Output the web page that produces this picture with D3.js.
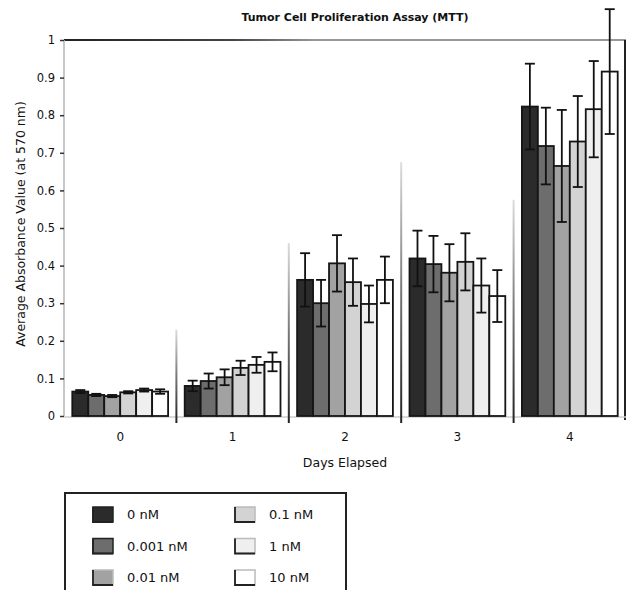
<!DOCTYPE html>
<html>
<head>
<meta charset="utf-8">
<script src="https://cdn.jsdelivr.net/npm/d3@7"></script>
<style>
  body { margin: 0; background: #fff; }
  text { font-family: "DejaVu Sans", sans-serif; fill: #111; }
</style>
</head>
<body>
<svg id="chart" width="626" height="590"></svg>
<script>
// days on the x axis
var days = ["0", "1", "2", "3", "4"];
// concentrations (legend order)
var doses = ["0 nM", "0.001 nM", "0.01 nM", "0.1 nM", "1 nM", "10 nM"];
var doseColors = ["#2b2b2b", "#6d6d6d", "#a2a2a2", "#d3d3d3", "#efefef", "#ffffff"];

// mean absorbance, one array per dose, day 0..4
var mean0nM    = [0.065, 0.080, 0.362, 0.419, 0.823];
var mean0001nM = [0.056, 0.093, 0.300, 0.404, 0.718];
var mean001nM  = [0.053, 0.103, 0.406, 0.381, 0.665];
var mean01nM   = [0.063, 0.128, 0.356, 0.410, 0.730];
var mean1nM    = [0.069, 0.136, 0.298, 0.347, 0.816];
var mean10nM   = [0.065, 0.144, 0.362, 0.319, 0.916];

// standard deviation (error bars)
var err0nM    = [0.004, 0.014, 0.071, 0.074, 0.114];
var err0001nM = [0.003, 0.020, 0.062, 0.075, 0.102];
var err001nM  = [0.003, 0.021, 0.075, 0.076, 0.149];
var err01nM   = [0.003, 0.019, 0.063, 0.076, 0.121];
var err1nM    = [0.004, 0.021, 0.049, 0.072, 0.128];
var err10nM   = [0.006, 0.025, 0.062, 0.069, 0.166];

// height reached by the thin divider lines between day groups
var dividerTops = [0.23, 0.46, 0.675, 0.575];

var yTicks = [0, 0.1, 0.2, 0.3, 0.4, 0.5, 0.6, 0.7, 0.8, 0.9, 1];

var means = [mean0nM, mean0001nM, mean001nM, mean01nM, mean1nM, mean10nM];
var errs = [err0nM, err0001nM, err001nM, err01nM, err1nM, err10nM];

var rows = [];
days.forEach(function(day, i) {
    doses.forEach(function(dose, j) {
        rows.push({day: day, dose: dose, color: doseColors[j], value: means[j][i], err: errs[j][i]});
    });
});

var svg = d3.select("#chart");

var plotLeft = 64, plotRight = 626, plotTop = 40, plotBottom = 416;

var xScale = d3.scaleBand().domain(days).range([plotLeft, plotRight]).padding(0);
var xInner = d3.scaleBand().domain(doses).range([0, xScale.bandwidth()]).paddingInner(0).paddingOuter(0.52);
var yScale = d3.scaleLinear().domain([0, 1]).range([plotBottom, plotTop]);

var defs = svg.append("defs");
var g1 = defs.append("linearGradient").attr("id", "topFade").attr("x1", "0").attr("x2", "1").attr("y1", "0").attr("y2", "0");
g1.append("stop").attr("offset", "0").attr("stop-color", "#222");
g1.append("stop").attr("offset", "0.3").attr("stop-color", "#444");
g1.append("stop").attr("offset", "0.45").attr("stop-color", "#999");
g1.append("stop").attr("offset", "1").attr("stop-color", "#999");
var g2 = defs.append("linearGradient").attr("id", "divFade").attr("x1", "0").attr("x2", "0").attr("y1", "0").attr("y2", "1");
g2.append("stop").attr("offset", "0").attr("stop-color", "#ddd");
g2.append("stop").attr("offset", "0.5").attr("stop-color", "#777");
g2.append("stop").attr("offset", "1").attr("stop-color", "#222");

// title
svg.append("text")
    .attr("x", 355).attr("y", 21)
    .attr("text-anchor", "middle")
    .style("font-size", "11px")
    .style("font-weight", "bold")
    .text("Tumor Cell Proliferation Assay (MTT)");

// frame: top line, right edge, faint left axis and baseline
svg.append("rect")
    .attr("x", plotLeft).attr("y", plotTop - 1).attr("width", plotRight - plotLeft).attr("height", 2)
    .attr("fill", "url(#topFade)");
svg.append("line")
    .attr("x1", plotRight - 1).attr("x2", plotRight - 1).attr("y1", plotTop).attr("y2", plotBottom + 4)
    .attr("stroke", "#222").attr("stroke-width", 2);
svg.append("line")
    .attr("x1", plotLeft).attr("x2", plotLeft).attr("y1", plotTop).attr("y2", plotBottom)
    .attr("stroke", "#b5b5b5").attr("stroke-width", 1.5);
svg.append("line")
    .attr("x1", plotLeft).attr("x2", plotRight).attr("y1", plotBottom + 1).attr("y2", plotBottom + 1)
    .attr("stroke", "#ccc").attr("stroke-width", 1.5);

// y axis ticks + labels
var yAxis = d3.axisLeft(yScale).tickValues(yTicks).tickSize(4).tickPadding(5)
    .tickFormat(function(d) { return String(+d.toFixed(1)); });
var yg = svg.append("g").attr("transform", "translate(" + plotLeft + ",0)").call(yAxis);
yg.select(".domain").remove();
yg.selectAll(".tick line").attr("stroke", "#333").attr("stroke-width", 1.5);
yg.selectAll(".tick text").style("font-size", "11.5px").style("font-family", "DejaVu Sans, sans-serif").attr("fill", "#111");

// x axis labels
var xAxis = d3.axisBottom(xScale).tickSize(0).tickPadding(16);
var xg = svg.append("g").attr("transform", "translate(0," + plotBottom + ")").call(xAxis);
xg.select(".domain").remove();
xg.selectAll(".tick text").style("font-size", "12px").style("font-family", "DejaVu Sans, sans-serif").attr("fill", "#111");

// axis titles
svg.append("text")
    .attr("x", 345).attr("y", 467)
    .attr("text-anchor", "middle")
    .style("font-size", "12.5px")
    .text("Days Elapsed");
svg.append("text")
    .attr("transform", "translate(25,224) rotate(-90)")
    .attr("text-anchor", "middle")
    .style("font-size", "12.5px")
    .text("Average Absorbance Value (at 570 nm)");

// dividers between day groups
svg.selectAll(".divider")
    .data(dividerTops)
    .enter()
    .append("rect")
    .attr("class", "divider")
    .attr("x", function(d, i) { return xScale(days[i + 1]) - 1; })
    .attr("y", function(d) { return yScale(d); })
    .attr("width", 2)
    .attr("height", function(d) { return yScale(0) - yScale(d) + 7; })
    .attr("fill", "url(#divFade)");

// bars
var groups = svg.selectAll(".day")
    .data(days)
    .enter()
    .append("g")
    .attr("class", "day")
    .attr("transform", function(d) { return "translate(" + xScale(d) + ",0)"; });

groups.selectAll("rect")
    .data(function(day) { return rows.filter(function(r) { return r.day === day; }); })
    .enter()
    .append("rect")
    .attr("x", function(r) { return xInner(r.dose); })
    .attr("y", function(r) { return yScale(r.value); })
    .attr("width", xInner.bandwidth())
    .attr("height", function(r) { return yScale(0) - yScale(r.value); })
    .attr("fill", function(r) { return r.color; })
    .attr("stroke", "#151515")
    .attr("stroke-width", 1.8);

// error bars
var eb = groups.selectAll(".err")
    .data(function(day) { return rows.filter(function(r) { return r.day === day; }); })
    .enter()
    .append("g")
    .attr("class", "err")
    .attr("stroke", "#111")
    .attr("stroke-width", 1.8);
var cx = function(r) { return xInner(r.dose) + xInner.bandwidth() / 2; };
eb.append("line")
    .attr("x1", cx).attr("x2", cx)
    .attr("y1", function(r) { return yScale(r.value + r.err); })
    .attr("y2", function(r) { return yScale(r.value - r.err); });
eb.append("line")
    .attr("x1", function(r) { return cx(r) - 5; }).attr("x2", function(r) { return cx(r) + 5; })
    .attr("y1", function(r) { return yScale(r.value + r.err); })
    .attr("y2", function(r) { return yScale(r.value + r.err); });
eb.append("line")
    .attr("x1", function(r) { return cx(r) - 5; }).attr("x2", function(r) { return cx(r) + 5; })
    .attr("y1", function(r) { return yScale(r.value - r.err); })
    .attr("y2", function(r) { return yScale(r.value - r.err); });

// legend
var legend = svg.append("g");
legend.append("rect")
    .attr("x", 65).attr("y", 493).attr("width", 281).attr("height", 110)
    .attr("fill", "none").attr("stroke", "#222").attr("stroke-width", 2);

var items = legend.selectAll(".item")
    .data(doses)
    .enter()
    .append("g")
    .attr("class", "item")
    .attr("transform", function(d, i) {
        var col = Math.floor(i / 3), row = i % 3;
        return "translate(" + (93 + col * 142) + "," + (507 + row * 31.5) + ")";
    });
items.append("rect")
    .attr("width", 20).attr("height", 15)
    .attr("fill", function(d, i) { return doseColors[i]; })
    .attr("stroke", function(d, i) { return i < 2 ? "#222" : "#bbb"; })
    .attr("stroke-width", 1.5);
items.append("path")
    .attr("d", "M0,0V15H20")
    .attr("fill", "none")
    .attr("stroke", "#222")
    .attr("stroke-width", 1.8);
items.append("text")
    .attr("x", 34).attr("y", 12)
    .style("font-size", "13px")
    .text(function(d) { return d; });
</script>
</body>
</html>
